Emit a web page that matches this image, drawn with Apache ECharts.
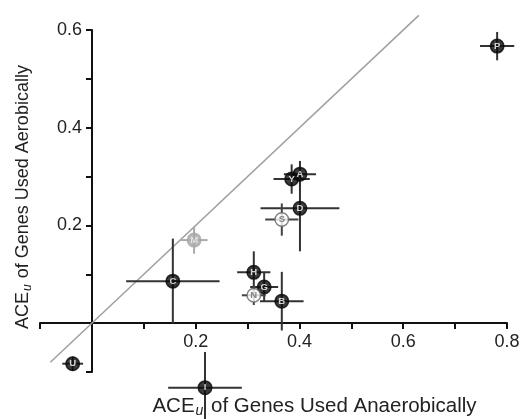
<!DOCTYPE html>
<html lang="en">
<head>
<meta charset="UTF-8">
<title>ACE aerobic vs anaerobic</title>
<script src="https://cdn.jsdelivr.net/npm/echarts@6/dist/echarts.min.js"></script>
<style>html,body{margin:0;padding:0;background:#fff;}</style>
</head>
<body>
<div id="main" style="width:522px;height:419px;"></div>
<script>
// point codes (Y drawn before A so A sits on top)
var codes = ['P', 'Y', 'A', 'D', 'S', 'M', 'C', 'H', 'G', 'N', 'B', 'U', 'I'];
// ACE_u anaerobic (x) and aerobic (y)
var xVals = [0.781, 0.385, 0.401, 0.401, 0.366, 0.197, 0.156, 0.312, 0.332, 0.312, 0.366, -0.037, 0.218];
var yVals = [0.567, 0.295, 0.305, 0.235, 0.212, 0.170, 0.086, 0.104, 0.074, 0.057, 0.045, -0.083, -0.132];
// error bar half widths
var xErr = [0.033, 0.035, 0.031, 0.076, 0.032, 0.026, 0.090, 0.032, 0.027, 0.023, 0.042, 0.020, 0.071];
var yErr = [0.029, 0.030, 0.027, 0.088, 0.033, 0.028, 0.087, 0.043, 0.030, 0.020, 0.060, 0.015, 0.073];
// marker kind: filled / open / gray
var kinds = ['filled', 'filled', 'filled', 'filled', 'open', 'gray', 'filled', 'filled', 'filled', 'open', 'filled', 'filled', 'filled'];
// y = x reference line
var diagonal = [[-0.08, -0.08], [0.63, 0.63]];

var kindStyle = {
    filled: {fill: '#0a0a0a', border: '#0a0a0a', text: '#fff', bar: '#333'},
    open: {fill: '#fff', border: '#666', text: '#666', bar: '#444'},
    gray: {fill: '#a8a8a8', border: '#a8a8a8', text: '#eee', bar: '#aaa'}
};

function evenTick(v) {
    var k = Math.round(v * 10);
    return (k > 0 && k % 2 === 0) ? (k / 10).toFixed(1) : '';
}

var pts = [], bars = [];
for (var i = 0; i < codes.length; i++) {
    var st = kindStyle[kinds[i]];
    pts.push({
        name: codes[i],
        value: [xVals[i], yVals[i]],
        itemStyle: {color: st.fill, borderColor: st.border, borderWidth: 1.5},
        label: {color: st.text}
    });
    bars.push([xVals[i], yVals[i], xErr[i], yErr[i], i]);
}

var myChart = echarts.init(document.getElementById('main'));
myChart.setOption({
    animation: false,
    grid: {left: 40, right: 15, top: 30, bottom: 47, outerBoundsMode: 'none'},
    xAxis: {
        type: 'value',
        min: -0.1, max: 0.8, interval: 0.1,
        // axes cross at the origin: shift the bottom axis up to y = 0
        offset: -49,
        splitLine: {show: false},
        axisLine: {onZero: false, lineStyle: {color: '#111', width: 2}},
        axisTick: {length: 6, lineStyle: {color: '#111', width: 2}},
        axisLabel: {formatter: evenTick, fontSize: 18, color: '#222', margin: 10, fontFamily: 'Liberation Sans'},
        name: '{a|ACE}{s|u}{a| of Genes Used Anaerobically}',
        nameLocation: 'middle',
        nameGap: 71,
        nameTextStyle: {
            padding: [0, 0, 0, 82],
            rich: {
                a: {fontSize: 20.5, color: '#222', fontFamily: 'Liberation Sans'},
                s: {fontSize: 14, color: '#222', fontStyle: 'italic', fontFamily: 'Liberation Sans', padding: [10, 2, 0, 1]}
            }
        }
    },
    yAxis: {
        type: 'value',
        min: -0.1, max: 0.6, interval: 0.1,
        // shift the left axis right to x = 0
        offset: -52,
        splitLine: {show: false},
        axisLine: {onZero: false, lineStyle: {color: '#111', width: 2}},
        axisTick: {length: 6, lineStyle: {color: '#111', width: 2}},
        axisLabel: {formatter: evenTick, fontSize: 18, color: '#222', margin: 10, fontFamily: 'Liberation Sans'},
        name: '{a|ACE}{s|u}{a| of Genes Used Aerobically}',
        nameLocation: 'middle',
        nameRotate: 90,
        nameGap: 58,
        nameTextStyle: {
            padding: [0, 0, 0, 8],
            rich: {
                a: {fontSize: 18, color: '#222', fontFamily: 'Liberation Sans'},
                s: {fontSize: 12, color: '#222', fontStyle: 'italic', fontFamily: 'Liberation Sans', padding: [9, 1, 0, 1]}
            }
        }
    },
    series: [
        {
            // y = x line
            type: 'line',
            data: diagonal,
            showSymbol: false,
            clip: false,
            silent: true,
            z: 1,
            lineStyle: {color: '#a0a0a0', width: 1.5}
        },
        {
            // error bars
            type: 'custom',
            clip: false,
            silent: true,
            z: 3,
            data: bars,
            renderItem: function (params, api) {
                var x = api.value(0), y = api.value(1), ex = api.value(2), ey = api.value(3);
                var col = kindStyle[kinds[api.value(4)]].bar;
                var l = api.coord([x - ex, y]), r = api.coord([x + ex, y]);
                var t = api.coord([x, y + ey]), b = api.coord([x, y - ey]);
                var ls = {stroke: col, lineWidth: 2};
                return {
                    type: 'group',
                    children: [
                        {type: 'line', shape: {x1: l[0], y1: l[1], x2: r[0], y2: r[1]}, style: ls},
                        {type: 'line', shape: {x1: t[0], y1: t[1], x2: b[0], y2: b[1]}, style: ls}
                    ]
                };
            }
        },
        {
            type: 'scatter',
            clip: false,
            z: 4,
            symbol: 'circle',
            symbolSize: 13.5,
            data: pts,
            label: {
                show: true,
                position: 'inside',
                formatter: '{b}',
                fontSize: 9.5,
                fontWeight: 'bold',
                fontFamily: 'Liberation Sans'
            }
        }
    ]
});
</script>
</body>
</html>
